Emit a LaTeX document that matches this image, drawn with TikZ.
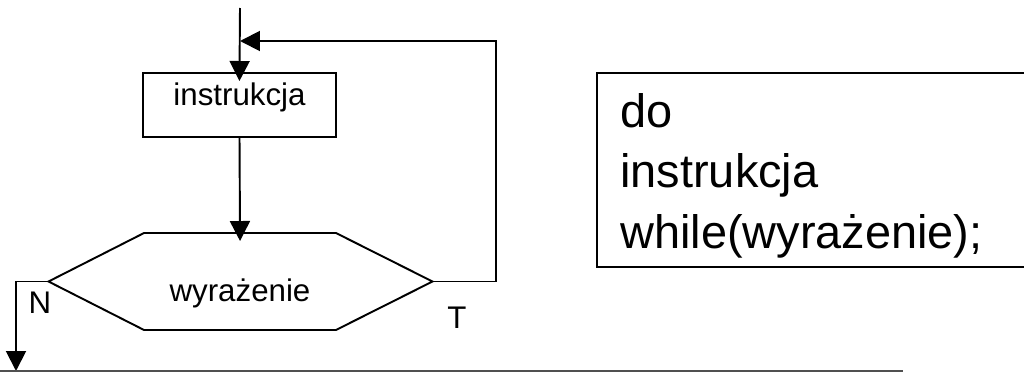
\documentclass[tikz,border=0pt]{standalone}
\usepackage{fontspec}
\setmainfont{Liberation Sans}
\usetikzlibrary{arrows.meta}
\definecolor{rim}{RGB}{80,80,80}
\tikzstyle{line}  = [line width=1.1pt]
\tikzstyle{arrow} = [line width=1.1pt,-{Triangle[length=0.4cm,width=0.4cm]}]

\begin{document}
\begin{tikzpicture}[x=0.02cm,y=-0.02cm,font=\fontsize{17.8}{21}\selectfont,
			block/.style={draw, line width=1.1pt, minimum width=3.86cm, minimum height=1.28cm, inner sep=0pt, outer sep=0pt, text height=0.4cm, text depth=0.4cm},
			decision/.style={minimum width=3.84cm, minimum height=1.94cm, inner sep=0pt, outer sep=0pt, text height=0.8cm, text depth=0pt},
			code/.style={font=\fontsize{26.7}{34.4}\selectfont, align=left, inner sep=0pt},
		]
		\useasboundingbox (0,0) rectangle (1024,372);

		% do-while flow
		\coordinate (start) at (240,8);
		\coordinate (back) at (240,41);
		\coordinate (out) at (16,371);
		\node[block] (instr) at (239.5,105) {instrukcja};
		\node[decision] (cond) at (240,281.5) {wyrażenie};
		\coordinate (cond-w) at (48.5,281.5);
		\coordinate (cond-e) at (432.5,281.5);
		\draw[line] (cond-w) -- (cond.north west) -- (cond.north east) -- (cond-e)
			-- (cond.south east) -- (cond.south west) -- cycle;

		\draw[arrow, shorten >=-0.16cm] (start) -- (instr.north);
		\draw[arrow, shorten >=-0.16cm] (instr.south) -- (cond.north);
		\draw[arrow] (cond-e) -- (496,281.5) |- (back);
		\draw[arrow] (cond-w) -| (out);

		\node[anchor=base] (no) at (40,313) {N};
		\node[anchor=base] (yes) at (457,328) {T};

		% C syntax on the right
		\draw[line] (597,73) rectangle (1040,267);
		\node[code, anchor=base west] (syntax) at (620,248) {do\\instrukcja\\while(wyrażenie);};

		\draw[line, rim] (0,371) -- (903,371);
	\end{tikzpicture}
\end{document}
